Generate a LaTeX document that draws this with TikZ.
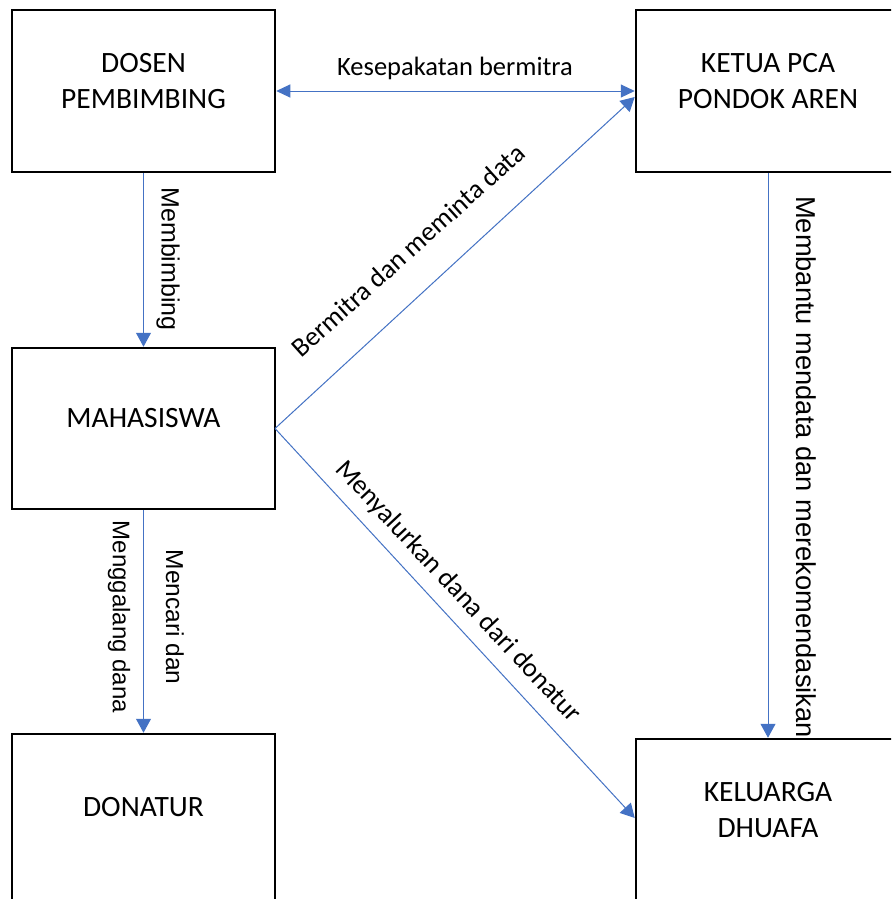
\documentclass[tikz,border=0pt]{standalone}
\usepackage{fontspec}
\setmainfont{Carlito}
\newfontfamily\arialf{Liberation Sans}
\usetikzlibrary{arrows.meta}
\definecolor{wblue}{HTML}{4472C4}
\tikzset{
  box/.style={draw=black, line width=2.5pt, rectangle, inner sep=0pt},
  boxtext/.style={align=center, inner sep=0pt, font=\fontsize{29.5}{35.5}\selectfont},
  conn/.style={draw=wblue, line width=1pt, -{Triangle[length=14pt,width=15pt]}},
  dconn/.style={draw=wblue, line width=1pt, {Triangle[length=14pt,width=13pt]}-{Triangle[length=14pt,width=13pt]}},
  clabel/.style={inner sep=0pt, font=\fontsize{26.5}{32}\selectfont},
  vlabel/.style={inner sep=0pt, rotate=-90, font=\arialf\fontsize{24.5}{30}\selectfont}
}
\begin{document}
\begin{tikzpicture}[x=1pt, y=-1pt]
\useasboundingbox (0,0) rectangle (891,899);
\clip (0,0) rectangle (891,899);
\fill[white] (0,0) rectangle (891,899);
% boxes
\node[box, minimum width=263pt, minimum height=162pt] (dosen) at (143.5,91) {};
\node[box, minimum width=270pt, minimum height=162pt] (ketua) at (771,91) {};
\node[box, minimum width=263pt, minimum height=161pt] (maha) at (143.5,428.5) {};
\node[box, minimum width=263pt, minimum height=170pt] (donatur) at (143.5,819) {};
\node[box, minimum width=270pt, minimum height=164pt] (kel) at (771,821) {};
% box texts
\node[boxtext] (dosenT) at (143.5,81) {DOSEN\\PEMBIMBING};
\node[boxtext] (ketuaT) at (768,81) {KETUA PCA\\PONDOK AREN};
\node[boxtext] (mahaT) at (143.5,418) {MAHASISWA};
\node[boxtext] (donaturT) at (143.5,807) {DONATUR};
\node[boxtext] (kelT) at (768,810) {KELUARGA\\DHUAFA};
% connectors
\draw[dconn] (dosen.east) -- (ketua.west);
\draw[conn] (dosen.south) -- (maha.north);
\draw[conn] (maha.south) -- (donatur.north);
\draw[conn] ([xshift=-1.25pt]maha.east) -- ([yshift=-6pt]ketua.west);
\draw[conn] ([xshift=-1.25pt]maha.east) -- ([yshift=3pt]kel.west);
\draw[conn] (ketua.south -| ketuaT) -- (kel.north -| ketuaT);
% labels
\node[clabel] (l1) at (455,68) {Kesepakatan bermitra};
\node[vlabel, font=\arialf\fontsize{25}{30}\selectfont] (l2) at (168,259) {Membimbing};
\node[vlabel] (l3) at (175,617) {Mencari dan};
\node[vlabel, font=\arialf\fontsize{24}{30}\selectfont] (l4) at (119,617) {Menggalang dana};
\node[clabel, rotate=42, font=\fontsize{27}{32}\selectfont] (l5) at (408,250) {Bermitra dan meminta data};
\node[clabel, rotate=-47, font=\fontsize{27}{32}\selectfont] (l6) at (458,592) {Menyalurkan dana dari donatur};
\node[vlabel, font=\arialf\fontsize{27.3}{30}\selectfont] (l7) at (806,467) {Membantu mendata dan merekomendasikan};
\end{tikzpicture}
\end{document}
